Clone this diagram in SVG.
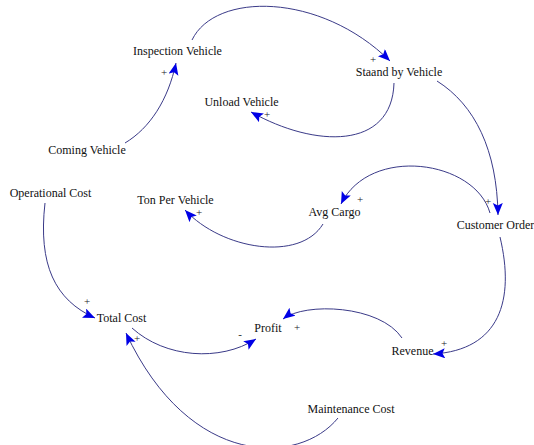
<svg xmlns="http://www.w3.org/2000/svg" width="534" height="445" viewBox="0 0 534 445">
<style>
.lbl{font-family:"Liberation Serif","Times New Roman",serif;font-size:12px;fill:#111;text-anchor:middle}
.pol{font-family:"Liberation Serif","Times New Roman",serif;font-size:11px;fill:#222;text-anchor:middle}
.link{fill:none;stroke:#3a3a88;stroke-width:1;marker-end:url(#arr)}
</style>
<defs>
<marker id="arr" markerUnits="userSpaceOnUse" markerWidth="14" markerHeight="12" refX="12" refY="5" orient="auto">
<path d="M0,0 L12,5 L0,10 L2.5,5 z" fill="#0000e6"/>
</marker>
</defs>
<rect width="534" height="445" fill="#fff"/>
<g id="connectors">
<path class="link" d="M125,143 C150,128 168,100 176,63"/>
<path class="link" d="M192,40 C215,-8 320,-8 390,61"/>
<path class="link" d="M394,83 C392,150 315,148 251,112"/>
<path class="link" d="M437,81 C475,105 497,150 498,215"/>
<path class="link" d="M490,213 C475,160 370,145 341,204"/>
<path class="link" d="M323,224 C300,262 222,250 185,210"/>
<path class="link" d="M45,203 C38,265 55,300 95,318"/>
<path class="link" d="M132,328 C165,358 220,362 256,339"/>
<path class="link" d="M402,338 C380,305 305,302 283,319"/>
<path class="link" d="M500,237 C515,300 500,350 433,354"/>
<path class="link" d="M338,418 C300,465 190,470 126,333"/>
</g>
<g id="polarities">
<text class="pol" x="164" y="76">+</text>
<text class="pol" x="373" y="63">+</text>
<text class="pol" x="267" y="118">+</text>
<text class="pol" x="488" y="205">+</text>
<text class="pol" x="360" y="203">+</text>
<text class="pol" x="199" y="216">+</text>
<text class="pol" x="87" y="305">+</text>
<text class="pol" x="137" y="342">+</text>
<text class="pol" x="240" y="338">-</text>
<text class="pol" x="297" y="331">+</text>
<text class="pol" x="444" y="347">+</text>
</g>
<g id="inspection-vehicle"><text class="lbl" x="177.5" y="55">Inspection Vehicle</text></g>
<g id="staand-by-vehicle"><text class="lbl" x="399" y="76">Staand by Vehicle</text></g>
<g id="unload-vehicle"><text class="lbl" x="241.5" y="106">Unload Vehicle</text></g>
<g id="coming-vehicle"><text class="lbl" x="87" y="154">Coming Vehicle</text></g>
<g id="operational-cost"><text class="lbl" x="50.5" y="197">Operational Cost</text></g>
<g id="ton-per-vehicle"><text class="lbl" x="175.5" y="204">Ton Per Vehicle</text></g>
<g id="avg-cargo"><text class="lbl" x="334.5" y="216">Avg Cargo</text></g>
<g id="customer-order"><text class="lbl" x="495.5" y="229">Customer Order</text></g>
<g id="total-cost"><text class="lbl" x="121.5" y="322">Total Cost</text></g>
<g id="profit"><text class="lbl" x="268" y="332">Profit</text></g>
<g id="revenue"><text class="lbl" x="412.5" y="355">Revenue</text></g>
<g id="maintenance-cost"><text class="lbl" x="351" y="413">Maintenance Cost</text></g>
</svg>
